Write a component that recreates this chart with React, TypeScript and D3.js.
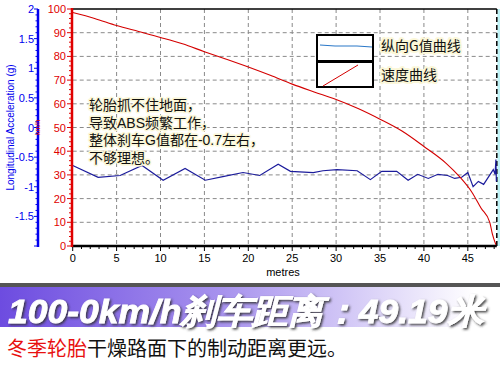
import React from "react";
import * as d3 from "d3";

const W = 500;
const H = 373;

// Speed curve (km/h) vs distance (m)
const speedDist = [0, 2.5, 5, 7.5, 10, 12.5, 15, 17.5, 20, 22.5, 25, 27.5, 30, 32.5, 35, 37.5, 40, 42.5, 44, 45.5, 46.5, 47.5, 47.8, 48.2];
const speedVals = [98.5, 96, 93, 90.5, 88, 85.3, 82, 78.8, 75.5, 72, 68.3, 65, 61.8, 58, 53.5, 48.5, 42, 35, 29.5, 22.5, 16, 10, 5, 0.5];

// Longitudinal G vs distance (m)
const gDist = [0, 2.9, 5.4, 7.9, 10.3, 12.8, 15.1, 17.1, 19.4, 21.3, 23.4, 24.8, 27.4, 28.5, 30.1, 32.4, 33.9, 35.2, 36.9, 38.2, 39.3, 40.5, 41.6, 42.7, 43.5, 44.3, 45.0, 45.6, 46.2, 46.8, 47.9, 48.1, 48.2, 48.25];
const gVals = [-0.64, -0.84, -0.81, -0.64, -0.89, -0.69, -0.89, -0.83, -0.76, -0.81, -0.62, -0.74, -0.76, -0.73, -0.71, -0.73, -0.88, -0.74, -0.74, -0.89, -0.79, -0.86, -0.79, -0.81, -0.86, -0.84, -0.76, -1.0, -0.91, -0.96, -0.71, -0.79, -0.54, -0.91];

const xTicks = [0, 5, 10, 15, 20, 25, 30, 35, 40, 45];
const speedTicks = [0, 10, 20, 30, 40, 50, 60, 70, 80, 90, 100];
const gTicks = [2, 1.5, 1, 0.5, 0, -0.5, -1, -1.5];
const gridX = [5, 10, 15, 20, 25, 30, 35, 40, 45];
const gridY = [10, 20, 30, 40, 50, 60, 70, 80, 90];

const legendLabels = ["纵向G值曲线", "速度曲线"];
const noteLines = ["轮胎抓不住地面，", "导致ABS频繁工作，", "整体刹车G值都在-0.7左右，", "不够理想。"];
const titleText = "100-0km/h刹车距离：49.19米";
const subRed = "冬季轮胎";
const subBlack = "干燥路面下的制动距离更远。";

const CJK = "'Noto Sans CJK SC', 'Noto Sans', sans-serif";
const NOTE = "'Liberation Sans', 'Noto Sans CJK SC', sans-serif";
const SANS = "'Liberation Sans', Arial, sans-serif";

export default function App() {
  const x = d3.scaleLinear().domain([0, 48.3]).range([72.7, 496.8]);
  const yV = d3.scaleLinear().domain([0, 100]).range([246, 9]);
  const yG = d3.scaleLinear().domain([-2, 2]).range([246, 9]);

  const speedLine = d3
    .line<number>()
    .x((_, i) => x(speedDist[i]))
    .y((v) => yV(v))
    .curve(d3.curveMonotoneX)(speedVals) as string;
  const gLine = d3
    .line<number>()
    .x((_, i) => x(gDist[i]))
    .y((v) => yG(v))(gVals) as string;

  const minorX = d3.range(0, 49, 1);
  const minorV = d3.range(0, 101, 2);
  const minorG = d3.range(-20, 21, 1).map((v) => v / 10);

  const x0 = x(0);
  const x1 = x(48.3);
  const yTop = yV(100);
  const yBot = yV(0);

  return (
    <svg
      width={W}
      height={H}
      style={{ position: "absolute", left: 0, top: 0, background: "#fff" }}
      xmlns="http://www.w3.org/2000/svg"
    >
      <defs>
        <linearGradient id="band" x1="0" x2="1" y1="0" y2="0">
          <stop offset="0" stopColor="#6d4ce0" />
          <stop offset="0.45" stopColor="#a893ee" />
          <stop offset="0.95" stopColor="#ffffff" />
        </linearGradient>
        <filter id="sh" x="-5%" y="-20%" width="110%" height="140%">
          <feDropShadow dx="1.5" dy="1.5" stdDeviation="1" floodColor="#333" floodOpacity="0.9" />
        </filter>
      </defs>
      <rect x={0} y={0} width={W} height={H} fill="#fff" />

      {/* grid */}
      {gridX.map((d) => (
        <line key={"gx" + d} x1={x(d)} x2={x(d)} y1={yTop} y2={yBot} stroke="#8a8a8a" strokeDasharray="4,3" strokeWidth={1} />
      ))}
      {gridY.map((d) => (
        <line key={"gy" + d} x1={x0} x2={x1} y1={yV(d)} y2={yV(d)} stroke="#8a8a8a" strokeDasharray="4,3" strokeWidth={1} />
      ))}

      {/* top border */}
      <line x1={x0} x2={x1} y1={yTop} y2={yTop} stroke="#000" strokeWidth={1.5} />
      {/* right dashed + cyan strip */}
      <rect x={x1 + 0.5} y={yTop} width={4} height={yBot - yTop} fill="#bff3f7" />
      <line x1={x1} x2={x1} y1={yTop} y2={yBot} stroke="#000" strokeDasharray="5,3" strokeWidth={1.5} />

      {/* data */}
      <path d={gLine} fill="none" stroke="#1c1c9c" strokeWidth={1.2} />
      <path d={speedLine} fill="none" stroke="#d40000" strokeWidth={1.1} />

      {/* x axis */}
      <line x1={x0 - 1} x2={x1} y1={yBot} y2={yBot} stroke="#000" strokeWidth={2.5} />
      {minorX.map((d) => (
        <line key={"mx" + d} x1={x(d)} x2={x(d)} y1={yBot} y2={yBot + (d % 5 === 0 ? 5 : 3)} stroke="#000" strokeWidth={1} />
      ))}
      {xTicks.map((d) => (
        <text key={"xt" + d} x={x(d)} y={262} fontFamily={SANS} fontSize={11} textAnchor="middle" fill="#000">
          {d}
        </text>
      ))}
      <text x={283} y={276} fontFamily={SANS} fontSize={11} textAnchor="middle" fill="#000">metres</text>

      {/* speed axis (red) */}
      <line x1={72} x2={72} y1={yTop - 1} y2={yBot + 1} stroke="#e00000" strokeWidth={2.5} />
      {minorV.map((d) => (
        <line key={"mv" + d} x1={72 - (d % 10 === 0 ? 5 : 3)} x2={72} y1={yV(d)} y2={yV(d)} stroke="#e00000" strokeWidth={1} />
      ))}
      {speedTicks.map((d) => (
        <text key={"vt" + d} x={66} y={yV(d) + 4} fontFamily={SANS} fontSize={11} textAnchor="end" fill="#e00000">
          {d}
        </text>
      ))}

      {/* G axis (blue) */}
      <line x1={38} x2={38} y1={yTop} y2={yBot + 1} stroke="#0000ee" strokeWidth={2.5} />
      {minorG.map((d, i) => (
        <line key={"mg" + i} x1={38 - (i % 5 === 0 ? 4 : 2.5)} x2={38} y1={yG(d)} y2={yG(d)} stroke="#0000ee" strokeWidth={1} />
      ))}
      {gTicks.map((d) => (
        <text key={"gt" + d} x={34} y={yG(d) + 4} fontFamily={SANS} fontSize={11} textAnchor="end" fill="#0000ee">
          {d}
        </text>
      ))}
      <text
        transform={`translate(14,${yG(0)}) rotate(-90)`}
        fontFamily={SANS}
        fontSize={10}
        textAnchor="middle"
        fill="#0000ee"
      >
        Longitudinal Acceleration (g)
      </text>
      <text
        transform={`translate(40,${yG(0)}) rotate(-90)`}
        fontFamily={SANS}
        fontSize={7}
        textAnchor="middle"
        fill="#e00000"
      >
        km/h
      </text>

      {/* legend */}
      <rect x={317} y={35} width={56} height={26} fill="#fff" stroke="#000" strokeWidth={2} />
      <polyline points="320,45 335,46 357,46 372,47" fill="none" stroke="#2b78c8" strokeWidth={1.2} />
      <rect x={317} y={62} width={56} height={25} fill="#fff" stroke="#000" strokeWidth={2} />
      <line x1={323} y1={86} x2={358} y2={65} stroke="#d40000" strokeWidth={1} />
      {legendLabels.map((t, i) => (
        <text
          key={t}
          x={381}
          y={51 + i * 29}
          fontFamily={CJK}
          fontSize={14}
          fill="#111"
          stroke="#fbf7d8"
          strokeWidth={4}
          paintOrder="stroke"
          strokeLinejoin="round"
        >
          {t}
        </text>
      ))}

      {/* note */}
      {noteLines.map((t, i) => (
        <text
          key={t}
          x={89}
          y={110 + i * 17.5}
          fontFamily={NOTE}
          fontSize={14}
          fill="#111"
          stroke="#fbf7d8"
          strokeWidth={3}
          paintOrder="stroke"
          strokeLinejoin="round"
        >
          {t}
        </text>
      ))}

      {/* banner */}
      <rect x={0} y={283} width={W} height={4} fill="#555" />
      <rect x={0} y={287} width={W} height={40} fill="url(#band)" />
      <text
        x={8}
        y={323}
        fontFamily={SANS}
        fontSize={34}
        fontWeight="bold"
        fontStyle="italic"
        fill="#fff"
        stroke="#fff"
        strokeWidth={0.8}
        filter="url(#sh)"
        textLength={475}
        lengthAdjust="spacingAndGlyphs"
      >
        {titleText}
      </text>

      {/* subtitle */}
      <text x={7} y={356} fontFamily={CJK} fontSize={20} fill="#111">
        <tspan fill="#e81010">{subRed}</tspan>
        <tspan>{subBlack}</tspan>
      </text>
    </svg>
  );
}
